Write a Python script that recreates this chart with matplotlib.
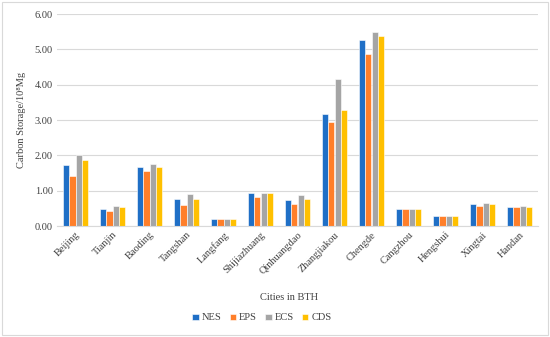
import numpy as np
import matplotlib.pyplot as plt
from matplotlib.patches import Rectangle

cities = ["Beijing", "Tianjin", "Baoding", "Tangshan", "Langfang", "Shijiazhuang",
          "Qinhuangdao", "Zhangjiakou", "Chengde", "Cangzhou", "Hengshui", "Xingtai", "Handan"]
nes = [1.74, 0.49, 1.68, 0.76, 0.21, 0.92, 0.75, 3.18, 5.26, 0.49, 0.28, 0.62, 0.55]
eps = [1.42, 0.42, 1.56, 0.59, 0.19, 0.82, 0.62, 2.94, 4.88, 0.47, 0.28, 0.57, 0.53]
ecs = [2.00, 0.58, 1.75, 0.91, 0.21, 0.93, 0.88, 4.16, 5.48, 0.49, 0.28, 0.65, 0.57]
cds = [1.88, 0.55, 1.68, 0.76, 0.19, 0.92, 0.76, 3.29, 5.38, 0.47, 0.28, 0.62, 0.55]
series = ["NES", "EPS", "ECS", "CDS"]
colors = ["#1F6FC6", "#FF7F2A", "#A5A5A5", "#FFC000"]

plt.rcParams['font.family'] = ['Liberation Serif', 'DejaVu Serif']

fig = plt.figure(figsize=(5.5, 3.37), dpi=100)
ax = fig.add_axes([57/550, 1 - 226/337, (538-57)/550, (226-14)/337])

x = np.arange(len(cities))
w = 0.175
for i, (vals, c, name) in enumerate(zip([nes, eps, ecs, cds], colors, series)):
    ax.bar(x + (i - 1.5) * w, vals, w, color=c, edgecolor='white', linewidth=0.4, label=name)

ax.set_xlim(-0.5, len(cities) - 0.5)
ax.set_ylim(0, 6)
ax.set_yticks(np.arange(0, 7, 1))
ax.set_yticklabels([f"{v:.2f}" for v in np.arange(0, 7, 1)], fontsize=7.5, color='#404040')
ax.set_xticks(x)
ax.set_xticklabels(cities, rotation=45, ha='right', rotation_mode='anchor', fontsize=7.5, color='#404040')
ax.tick_params(length=0, pad=3)
ax.grid(axis='y', color='#D9D9D9', linewidth=0.8)
ax.set_axisbelow(True)
for s in ['top', 'right', 'left']:
    ax.spines[s].set_visible(False)
ax.spines['bottom'].set_color('#D9D9D9')
ax.set_ylabel("Carbon Storage/10⁸Mg", fontsize=7.5, color='#404040', labelpad=6)
ax.set_xlabel("Cities in BTH", fontsize=7.5, color='#404040')
ax.xaxis.set_label_coords((275 - 57) / 481 + 0.03, -(293 - 226) / 212)

fig.legend(loc='center', bbox_to_anchor=(262/550, 1 - 318/337), ncol=4, frameon=False,
           fontsize=7.5, handlelength=0.6, handleheight=0.6, handletextpad=0.3, columnspacing=0.8,
           labelcolor='#404040')

fig.patches.append(Rectangle((0.003, 0.005), 0.994, 0.99, transform=fig.transFigure,
                             fill=False, edgecolor='#D9D9D9', linewidth=0.8))

fig.savefig("out.png", dpi=100)
